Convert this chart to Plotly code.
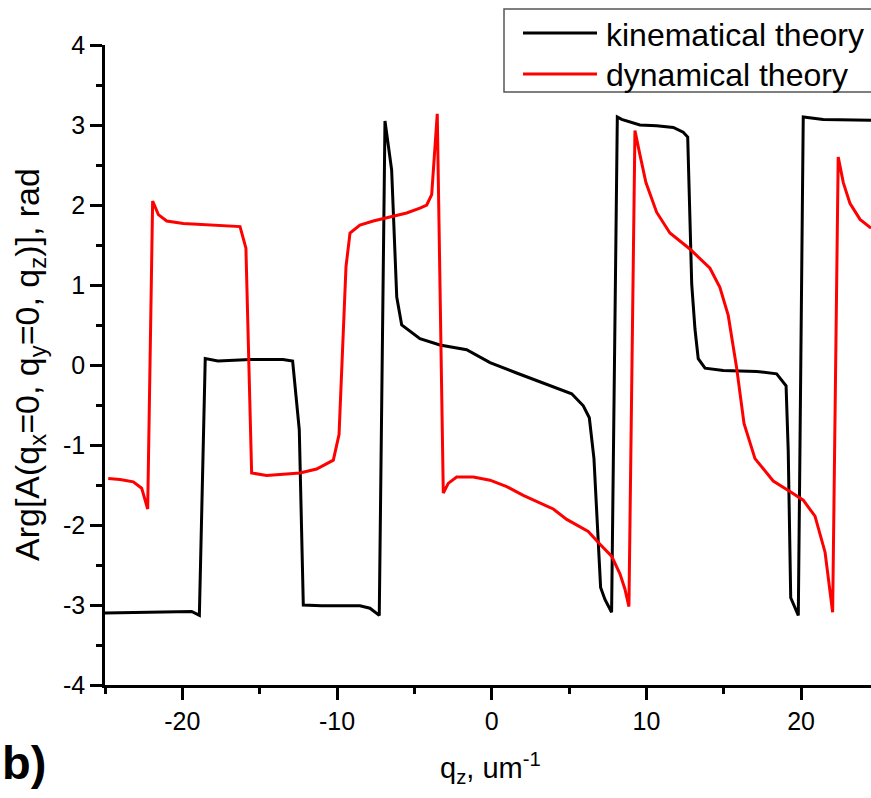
import plotly.graph_objects as go

# ---- data ----
kin_q = [-25.0, -22.0, -20.5, -19.4, -18.9, -18.52, -17.7, -15.6, -13.5, -12.87,
         -12.44, -12.18, -11.0, -9.0, -8.52, -7.87, -7.27, -6.90, -6.47, -6.14,
         -5.82, -4.64, -3.35, -1.62, -0.11, 1.61, 3.12, 5.17, 5.92, 6.31,
         6.61, 6.89, 7.04, 7.32, 7.75, 8.12, 8.40, 9.58, 10.66, 11.74,
         12.38, 12.67, 12.93, 13.14, 13.35, 13.79, 14.97, 17.13, 18.42, 19.03,
         19.17, 19.33, 19.82, 20.14, 21.43, 24.52]
kin_arg = [-3.10, -3.09, -3.09, -3.08, -3.13, 0.08, 0.05, 0.07, 0.07, 0.05,
           -0.81, -3.00, -3.01, -3.01, -3.01, -3.04, -3.13, 3.05, 2.44, 0.85,
           0.50, 0.33, 0.25, 0.19, 0.03, -0.10, -0.21, -0.36, -0.51, -0.66,
           -1.17, -2.17, -2.78, -2.93, -3.09, 3.10, 3.07, 3.00, 2.99, 2.97,
           2.91, 2.85, 1.01, 0.45, 0.08, -0.04, -0.07, -0.08, -0.11, -0.26,
           -1.08, -2.91, -3.13, 3.10, 3.07, 3.06]

dyn_q = [-24.79, -24.03, -23.17, -22.63, -22.24, -21.92, -21.55, -21.01, -19.94, -17.78,
         -16.27, -15.89, -15.52, -14.55, -12.40, -11.32, -10.24, -9.87, -9.42, -9.16,
         -8.52, -7.66, -6.58, -5.50, -4.64, -4.20, -3.88, -3.52, -3.13, -2.81,
         -2.27, -1.19, -0.11, 0.97, 2.04, 3.12, 3.98, 4.85, 6.24, 7.00,
         7.75, 8.29, 8.61, 8.87, 9.26, 9.58, 9.97, 10.66, 11.52, 12.81,
         14.11, 14.75, 15.29, 15.83, 16.31, 17.02, 18.20, 19.28, 20.14, 20.90,
         21.55, 22.04, 22.40, 22.73, 23.16, 23.81, 24.52]
dyn_arg = [-1.42, -1.43, -1.46, -1.54, -1.80, 2.05, 1.88, 1.80, 1.77, 1.75,
           1.73, 1.46, -1.35, -1.38, -1.35, -1.30, -1.19, -0.87, 1.23, 1.65,
           1.75, 1.80, 1.85, 1.90, 1.96, 2.00, 2.13, 3.14, -1.60, -1.48,
           -1.40, -1.40, -1.44, -1.52, -1.63, -1.73, -1.80, -1.93, -2.08, -2.24,
           -2.39, -2.61, -2.80, -3.02, 2.93, 2.63, 2.28, 1.91, 1.65, 1.45,
           1.21, 0.97, 0.62, -0.03, -0.73, -1.17, -1.45, -1.58, -1.69, -1.89,
           -2.34, -3.09, 2.60, 2.28, 2.02, 1.82, 1.71]

x_tick_vals = [-20, -10, 0, 10, 20]
x_tick_text = ["-20", "-10", "0", "10", "20"]
y_tick_vals = [-4, -3, -2, -1, 0, 1, 2, 3, 4]
y_tick_text = ["-4", "-3", "-2", "-1", "0", "1", "2", "3", "4"]

series_names = ["kinematical theory", "dynamical theory"]
series_colors = ["#000000", "#ff0000"]

FONT = "Liberation Sans, Arial, sans-serif"

fig = go.Figure()
fig.add_trace(go.Scatter(x=kin_q, y=kin_arg, mode="lines", name=series_names[0],
                         line=dict(color=series_colors[0], width=3)))
fig.add_trace(go.Scatter(x=dyn_q, y=dyn_arg, mode="lines", name=series_names[1],
                         line=dict(color=series_colors[1], width=3)))

W, H = 871, 798
L, R, T, B = 105, 0, 45, 113
pw, ph = W - L - R, H - T - B

def px(x):
    return (x - L) / pw

def py(y):
    return (H - B - y) / ph

axis_common = dict(showline=True, linecolor="black", linewidth=2.5, ticks="outside",
                   ticklen=12, tickwidth=2.5, tickcolor="black", showgrid=False,
                   zeroline=False, mirror=False,
                   tickfont=dict(family=FONT, size=25, color="black"))

fig.update_layout(
    width=W, height=H, margin=dict(l=L, r=R, t=T, b=B, autoexpand=False),
    paper_bgcolor="white", plot_bgcolor="white", showlegend=False,
    xaxis=dict(range=[-25, 24.52], tickvals=x_tick_vals, ticktext=x_tick_text,
               minor=dict(ticks="outside", ticklen=6, tickwidth=2.5, tickcolor="black",
                          tickvals=[-25, -15, -5, 5, 15]),
               **axis_common),
    yaxis=dict(range=[-4, 4], tickvals=y_tick_vals, ticktext=y_tick_text,
               minor=dict(ticks="outside", ticklen=6, tickwidth=2.5, tickcolor="black",
                          tickvals=[-3.5, -2.5, -1.5, -0.5, 0.5, 1.5, 2.5, 3.5]),
               **axis_common),
)

annos = []
# axis titles
annos.append(dict(xref="paper", yref="paper", x=px(490), y=py(768),
                  text="q<sub>z</sub>, um<sup>-1</sup>", showarrow=False,
                  xanchor="center", yanchor="middle",
                  font=dict(family=FONT, size=29, color="black")))
annos.append(dict(xref="paper", yref="paper", x=px(29), y=py(365),
                  text="Arg[A(q<sub>x</sub>=0, q<sub>y</sub>=0, q<sub>z</sub>)], rad",
                  showarrow=False, textangle=-90, xanchor="center", yanchor="middle",
                  font=dict(family=FONT, size=34, color="black")))
# panel label
annos.append(dict(xref="paper", yref="paper", x=px(0), y=py(762),
                  text="<b>b)</b>", showarrow=False, xanchor="left", yanchor="middle",
                  font=dict(family=FONT, size=47, color="black")))

# legend (drawn box, sample lines and labels)
shapes = [dict(type="rect", xref="paper", yref="paper", x0=px(504), x1=px(880),
               y0=py(92), y1=py(9), line=dict(color="#555555", width=1.5),
               fillcolor="white", layer="above")]
leg_lines = [33, 74]
leg_text = [35, 75]
for name, col, yl, yt in zip(series_names, series_colors, leg_lines, leg_text):
    shapes.append(dict(type="line", xref="paper", yref="paper", x0=px(523), x1=px(597),
                       y0=py(yl), y1=py(yl), line=dict(color=col, width=3), layer="above"))
    annos.append(dict(xref="paper", yref="paper", x=px(604), y=py(yt), text=name,
                      showarrow=False, xanchor="left", yanchor="middle",
                      font=dict(family=FONT, size=32, color="black")))

fig.update_layout(shapes=shapes, annotations=annos)
fig.write_html("out.html", config={"displayModeBar": False},
               post_script="document.body.style.margin='0';document.body.style.padding='0';")
